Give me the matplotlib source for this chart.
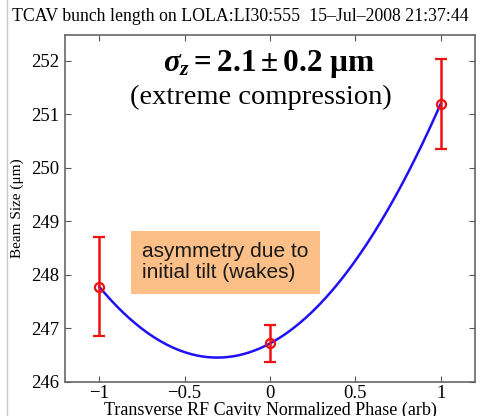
import numpy as np
import matplotlib

matplotlib.use("Agg")
import matplotlib.pyplot as plt
from matplotlib.lines import Line2D

# measured bunch length scan
phase = [-1.0, 0.0, 1.0]
beam_size = [247.78, 246.72, 251.20]
beam_err = [0.92, 0.35, 0.84]

x_ticks = [-1, -0.5, 0, 0.5, 1]
x_tick_labels = ["\u22121", "\u22120.5", "0", "0.5", "1"]
y_ticks = [246, 247, 248, 249, 250, 251, 252]

plt.rcParams["font.family"] = ["Liberation Serif", "DejaVu Serif"]
plt.rcParams["mathtext.fontset"] = "custom"
plt.rcParams["mathtext.rm"] = "Liberation Serif:bold"
plt.rcParams["mathtext.it"] = "Liberation Serif:italic:bold"
plt.rcParams["mathtext.bf"] = "Liberation Serif:bold"

fig = plt.figure(figsize=(4.83, 4.16), dpi=100)
ax = fig.add_axes([65 / 483, 1 - 382 / 416, 410 / 483, 347 / 416])

# parabolic fit through the three points
coef = np.polyfit(phase, beam_size, 2)
xs = np.linspace(min(phase), max(phase), 200)
ax.plot(xs, np.polyval(coef, xs), color="#2010f5", linewidth=1.8, zorder=2)

ax.errorbar(phase, beam_size, yerr=beam_err, fmt="o", color="#f01010",
            markerfacecolor="none", markeredgewidth=1.6, markersize=6.5,
            elinewidth=1.8, capsize=4.5, capthick=1.6, zorder=3)

ax.set_xlim(-1.2, 1.2)
ax.set_ylim(246, 252.48)
ax.set_xticks(x_ticks)
ax.set_xticklabels(x_tick_labels)
ax.set_yticks(y_ticks)
ax.tick_params(direction="in", length=4, width=0.8, color="#555555",
               top=True, right=True, labelsize=13.5, pad=4)
ax.tick_params(axis="x", pad=2)
for spine in ax.spines.values():
    spine.set_color("#666666")
    spine.set_linewidth(1.2)

ax.set_ylabel("Beam Size (\u03bcm)", fontsize=11, labelpad=5)
ax.set_xlabel("Transverse RF Cavity Normalized Phase (arb)", fontsize=13, labelpad=0)

fig.text(12 / 483, 1 - 21 / 416, "TCAV bunch length on LOLA:LI30:555  15\u2013Jul\u20132008 21:37:44",
         fontsize=12.8, ha="left", va="baseline")

ax.text(0.497, 0.915, r"$\sigma_z = \mathrm{2.1 \pm 0.2\ \mu m}$", transform=ax.transAxes,
        fontsize=22.5, ha="center", va="center")
ax.text(0.477, 0.82, "(extreme compression)", transform=ax.transAxes,
        fontsize=20.5, ha="center", va="center")

ax.text(0.188, 0.345, "asymmetry due to\ninitial tilt (wakes)", transform=ax.transAxes,
        fontsize=15, family=["Liberation Sans", "DejaVu Sans"], ha="left", va="center",
        linespacing=1.15, color="#1a1a1a",
        bbox={"boxstyle": "square,pad=0.55", "facecolor": "#fbbf87", "edgecolor": "none"})

# thin frame line along the left edge
fig.add_artist(Line2D([7 / 483, 7 / 483], [0, 1], color="#c8c8c8", linewidth=1.0,
                      transform=fig.transFigure))

fig.savefig("out.png", dpi=100)
